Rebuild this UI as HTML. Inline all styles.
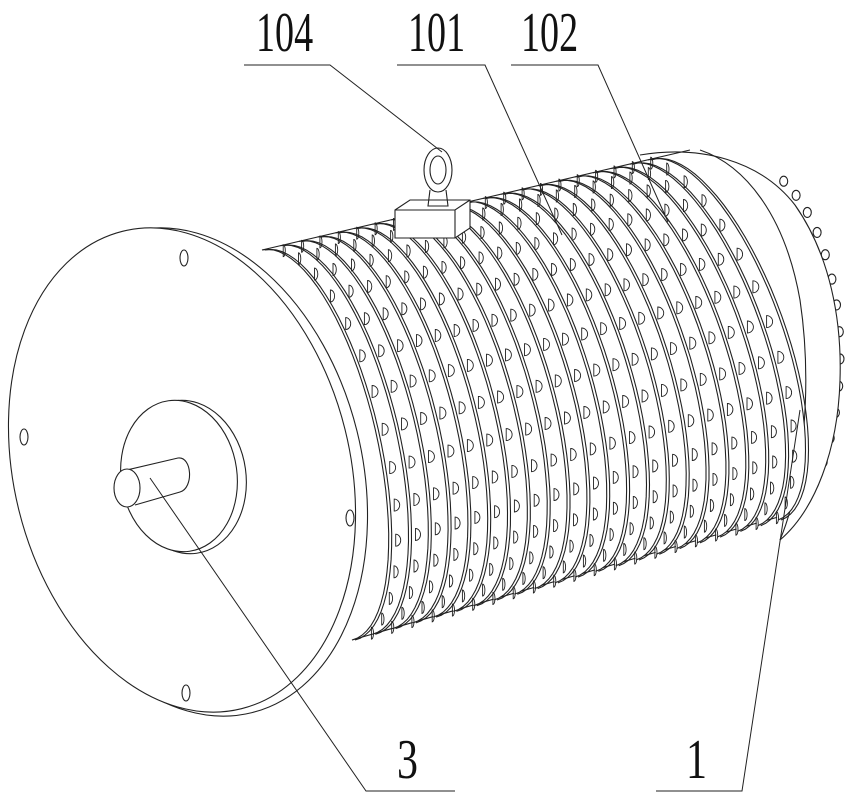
<!DOCTYPE html>
<html><head><meta charset="utf-8">
<style>html,body{margin:0;padding:0;background:#fff;}svg{display:block}</style>
</head><body>
<svg id="s" width="849" height="799" viewBox="0 0 849 799" xmlns="http://www.w3.org/2000/svg" fill="none" stroke="#222" stroke-width="1.1">
<g id="cap">
<g id="bumps"></g>
<path d="M640,155 C700,145 760,160 795,205 C830,255 842,320 840,380 C838,450 815,510 780,540" fill="#fff"/>
<path d="M700,150 C745,165 785,215 800,300 C812,380 805,480 780,540"/>
</g>
<g id="fins"></g>
<g id="flange">
<ellipse cx="192" cy="472" rx="170" ry="248" transform="rotate(-14 192 472)" fill="#fff"/>
<ellipse cx="182" cy="470" rx="168" ry="246" transform="rotate(-14 182 470)" fill="#fff"/>
<ellipse cx="184" cy="258" rx="4" ry="8"/>
<ellipse cx="24" cy="437" rx="4" ry="8"/>
<ellipse cx="350" cy="518" rx="4" ry="8"/>
<ellipse cx="186" cy="693" rx="4" ry="8"/>
<ellipse cx="186" cy="477" rx="60" ry="77" transform="rotate(-8 186 477)"/>
<ellipse cx="179" cy="476" rx="58" ry="76" transform="rotate(-8 179 476)" fill="#fff"/>
<path d="M127,470 L178,458 C192,456 194,488 180,492 L135,505" fill="#fff"/>
<ellipse cx="127" cy="488" rx="13" ry="19" fill="#fff"/>
</g>
<g id="eye">
<path d="M395,210 L410,200 L470,200 L470,228 L455,238 L395,238 Z" fill="#fff"/>
<path d="M395,210 L455,210 L470,200 M455,210 L455,238"/>
<ellipse cx="438" cy="170" rx="14" ry="22" fill="#fff"/>
<ellipse cx="438" cy="170" rx="8" ry="14"/>
<path d="M430,190 L428,206 L448,206 L446,190"/>
</g>
<g stroke-width="1">
<path d="M244,65 H330 L442,152"/>
<path d="M397,65 H485 L562,235"/>
<path d="M511,65 H598 L668,222"/>
<path d="M455,791 H366 L150,478"/>
<path d="M656,791 H742 L800,410"/>
</g>
<g font-family="Liberation Serif, serif" font-size="56" fill="#111" stroke="none">
<text transform="translate(256,51) scale(0.68,1)">104</text>
<text transform="translate(408,51) scale(0.68,1)">101</text>
<text transform="translate(521,51) scale(0.68,1)">102</text>
<text transform="translate(397,778) scale(0.75,1)">3</text>
<text transform="translate(686,778) scale(0.75,1)">1</text>
</g>
</svg>
<script>
(function(){
var NS="http://www.w3.org/2000/svg";
var g=document.getElementById("fins");
function el(p,n,a){var e=document.createElementNS(NS,n);for(var k in a)e.setAttribute(k,a[k]);p.appendChild(e);return e;}
function lerp(a,b,t){return [a[0]+(b[0]-a[0])*t,a[1]+(b[1]-a[1])*t];}
var bg=document.getElementById("bumps");
for(var k=0;k<16;k++){var th=-1.1+k*0.14;
 var x=737+103*Math.cos(th), y=355+195*Math.sin(th);
 el(bg,"ellipse",{cx:x.toFixed(1),cy:y.toFixed(1),rx:"4",ry:"5",fill:"#fff"});}
el(g,"path",{d:"M262,250 L690,150 M352,640 L785,515"});
var N=22,rx=70;
for(var i=N-1;i>=0;i--){
 var t=i/(N-1);
 var T=lerp([262,250],[648,160],t),B=lerp([352,640],[778,520],t);
 var c=[(T[0]+B[0])/2,(T[1]+B[1])/2];
 var u=[(B[0]-T[0])/2,(B[1]-T[1])/2];
 var L=Math.hypot(u[0],u[1]);var v=[-u[1]/L*rx,u[0]/L*rx];
 if(v[0]<0){v=[-v[0],-v[1]];}
 for(var o=0;o<2;o++){
  var pts=[];var off=o*3;
  for(var k=0;k<=40;k++){var th=Math.PI*(1-k/40);
   pts.push((c[0]-u[0]*Math.cos(th)+v[0]*Math.sin(th)+off).toFixed(1)+","+(c[1]-u[1]*Math.cos(th)+v[1]*Math.sin(th)).toFixed(1));}
  el(g,"polyline",{points:pts.join(" "),fill:o==0?"#fff":"none"});
 }
 if(i<N-1){
 for(var j=1;j<16;j++){
  var th=Math.PI*(1-j/16);
  var x=c[0]-u[0]*Math.cos(th)+v[0]*Math.sin(th)+7, y=c[1]-u[1]*Math.cos(th)+v[1]*Math.sin(th);
  var s=Math.max(0.35,Math.sin(th));
  var r=6*s;
  el(g,"path",{d:"M"+x.toFixed(1)+","+(y-6).toFixed(1)+" a"+r.toFixed(1)+",6 0 0 1 0,12 Z","stroke-width":"0.9"});
 }}
}
})();
</script>
</body></html>
